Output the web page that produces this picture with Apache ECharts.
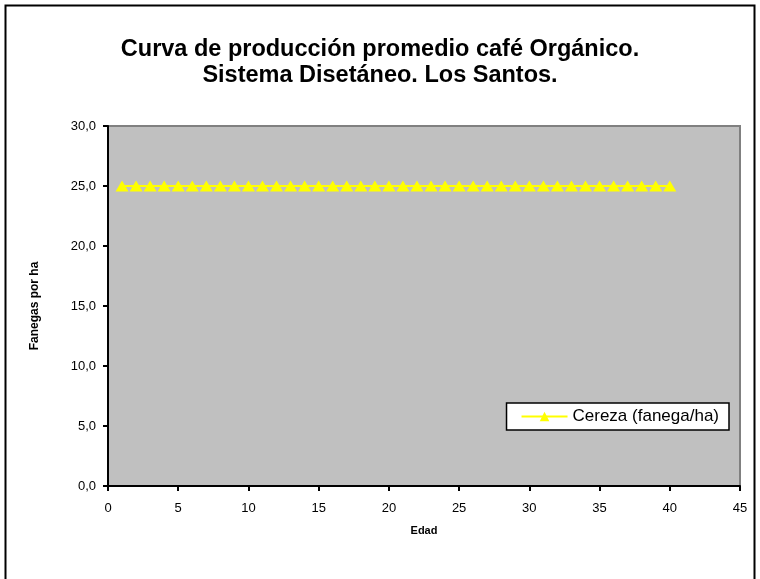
<!DOCTYPE html>
<html><head><meta charset="utf-8">
<script src="https://cdn.jsdelivr.net/npm/echarts@6/dist/echarts.min.js"></script>
<style>html,body{margin:0;padding:0;background:#fff}#c{width:760px;height:579px}</style>
</head><body><div id="c"></div>
<script>
const edad = [1,2,3,4,5,6,7,8,9,10,11,12,13,14,15,16,17,18,19,20,21,22,23,24,25,26,27,28,29,30,31,32,33,34,35,36,37,38,39,40];
const cereza = [25,25,25,25,25,25,25,25,25,25,25,25,25,25,25,25,25,25,25,25,25,25,25,25,25,25,25,25,25,25,25,25,25,25,25,25,25,25,25,25];
const seriesName = 'Cereza (fanega/ha)';
const titleText = 'Curva de producción promedio café Orgánico.\nSistema Disetáneo. Los Santos.';

const chart = echarts.init(document.getElementById('c'), null, {renderer:'canvas'});
const F = 'Liberation Sans, Arial, sans-serif';
chart.setOption({
  animation:false,
  backgroundColor:'#fff',
  graphic:[{type:'rect',shape:{x:5.5,y:5.5,width:749,height:600},style:{fill:'none',stroke:'#000',lineWidth:2},z:-1}],
  title:{text:titleText,left:'center',top:32,
    textStyle:{fontFamily:F,fontSize:23.5,fontWeight:'bold',color:'#000',lineHeight:26}},
  grid:{left:108,right:20,top:126,bottom:93,show:true,backgroundColor:'#c0c0c0',borderColor:'#808080',borderWidth:2},
  legend:{right:31,top:403,orient:'horizontal',backgroundColor:'#fff',borderColor:'#000',borderWidth:1.5,
    padding:[5,10,5,14],itemWidth:46,itemHeight:12,itemGap:4,
    textStyle:{fontFamily:F,fontSize:17,color:'#000'},
    data:[{name:seriesName}]},
  xAxis:{type:'value',min:0,max:45,interval:5,
    name:'Edad',nameLocation:'middle',nameGap:39,
    nameTextStyle:{fontFamily:F,fontSize:11,fontWeight:'bold',color:'#000'},
    axisLine:{show:true,onZero:false,lineStyle:{color:'#000',width:2}},
    axisTick:{show:true,inside:false,length:5,lineStyle:{color:'#000',width:2}},
    axisLabel:{fontFamily:F,fontSize:13,color:'#000',margin:16},
    splitLine:{show:false}},
  yAxis:{type:'value',min:0,max:30,interval:5,
    name:'Fanegas por ha',nameLocation:'middle',nameGap:67,
    nameTextStyle:{fontFamily:F,fontSize:12,fontWeight:'bold',color:'#000'},
    axisLine:{show:true,lineStyle:{color:'#000',width:2}},
    axisTick:{show:true,inside:false,length:5,lineStyle:{color:'#000',width:2}},
    axisLabel:{fontFamily:F,fontSize:13,color:'#000',margin:12,
      formatter:v=>v.toFixed(1).replace('.',',')},
    splitLine:{show:false}},
  series:[{name:seriesName,type:'line',data:edad.map((x,i)=>[x,cereza[i]]),
    symbol:'triangle',symbolSize:[13,11],showAllSymbol:true,
    lineStyle:{color:'#ffff00',width:2},itemStyle:{color:'#ffff00'}}]
});
</script></body></html>
